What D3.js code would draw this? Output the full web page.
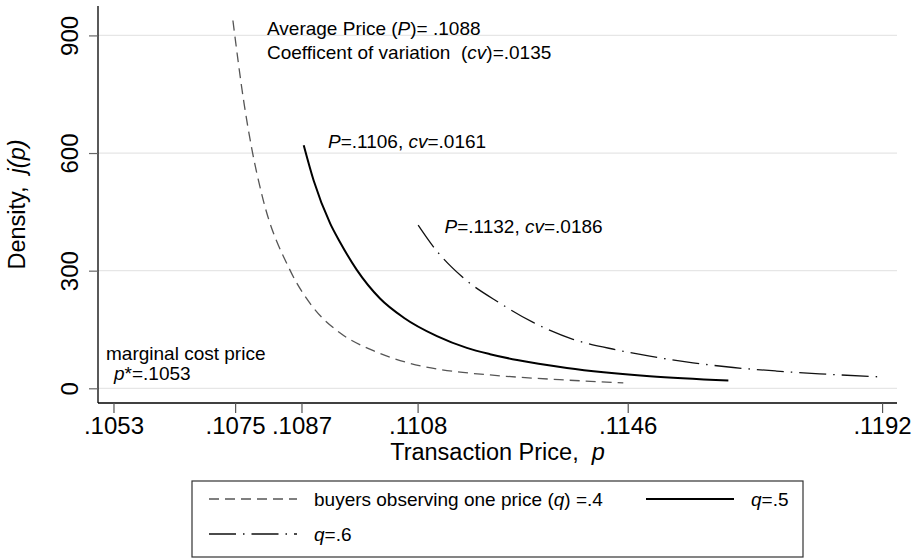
<!DOCTYPE html>
<html><head><meta charset="utf-8">
<script src="https://cdn.jsdelivr.net/npm/d3@7"></script>
<style>
html,body{margin:0;padding:0;background:#fff;}
text{font-family:"Liberation Sans",Arial,Helvetica,sans-serif;fill:#000;white-space:pre;}
</style></head>
<body>
<svg id="chart" width="915" height="558"></svg>
<script>
// ---- data ----
const priceTicks = [0.1053, 0.1075, 0.1087, 0.1108, 0.1146, 0.1192];
const priceTickLabels = [".1053", ".1075", ".1087", ".1108", ".1146", ".1192"];
const densityTicks = [0, 300, 600, 900];
const densityTickLabels = ["0", "300", "600", "900"];

// q = .4 (dashed)
const q4Price   = [0.10746, 0.10766, 0.10780, 0.10799, 0.10849, 0.10889, 0.10940, 0.11000, 0.11060, 0.11121, 0.11211, 0.11337, 0.11452];
const q4Density = [938, 728, 612, 490, 302, 210, 141, 96, 66, 48, 34, 22, 14];
// q = .5 (solid)
const q5Price   = [0.10874, 0.10892, 0.10922, 0.10940, 0.10970, 0.11012, 0.11055, 0.11115, 0.11169, 0.11211, 0.11260, 0.11350, 0.11500, 0.11642];
const q5Density = [620, 530, 420, 372, 302, 229, 180, 133, 103, 87, 72, 52, 31, 20];
// q = .6 (dash-dot)
const q6Price   = [0.11081, 0.11108, 0.11160, 0.11229, 0.11289, 0.11361, 0.11440, 0.11500, 0.11578, 0.11651, 0.11729, 0.11807, 0.11917];
const q6Density = [416, 362, 285, 217, 168, 125, 98, 82, 65, 53, 44, 37, 29];

// ---- layout ----
const svg = d3.select("#chart");
const L = 98, R = 897, T = 6, B = 403;
const x = d3.scaleLinear().domain([0.10502, 0.11947]).range([L, R]);
const y = d3.scaleLinear().domain([-37.5, 975]).range([B, T]);

// grid
svg.append("g").selectAll("line").data(densityTicks).join("line")
  .attr("x1", L).attr("x2", R)
  .attr("y1", d => y(d)).attr("y2", d => y(d))
  .attr("stroke", "#e6e6e6").attr("stroke-width", 1.2);

// y axis
const yAxis = svg.append("g").attr("transform", `translate(${L},0)`)
  .call(d3.axisLeft(y).tickValues(densityTicks).tickFormat((d,i) => densityTickLabels[i]).tickSize(9).tickPadding(10));
yAxis.select(".domain").attr("d", `M0,${T}V${B}`).attr("stroke", "#000").attr("stroke-width", 1.3);
yAxis.selectAll(".tick line").attr("stroke", "#666").attr("stroke-width", 1.2);
yAxis.selectAll(".tick text")
  .attr("font-size", 24).attr("font-family", "Liberation Sans, Arial, sans-serif")
  .attr("text-anchor", "middle").attr("x", null).attr("dy", null)
  .attr("transform", "translate(-20,0) rotate(-90)")
  .attr("y", 0);

// x axis
const xAxis = svg.append("g").attr("transform", `translate(0,${B})`)
  .call(d3.axisBottom(x).tickValues(priceTicks).tickFormat((d,i) => priceTickLabels[i]).tickSize(10).tickPadding(4));
xAxis.select(".domain").attr("d", `M${L},0H${R}`).attr("stroke", "#000").attr("stroke-width", 1.3);
xAxis.selectAll(".tick line").attr("stroke", "#555").attr("stroke-width", 1.2);
xAxis.selectAll(".tick text")
  .attr("font-size", 24).attr("font-family", "Liberation Sans, Arial, sans-serif")
  .attr("dy", null).attr("y", 30.5);

// curves
const line = d3.line().x(d => x(d[0])).y(d => y(d[1])).curve(d3.curveMonotoneX);
const series = [
  {id: "q4", pts: d3.zip(q4Price, q4Density), stroke: "#555", width: 1.3, dash: "10,6"},
  {id: "q5", pts: d3.zip(q5Price, q5Density), stroke: "#000", width: 2, dash: null},
  {id: "q6", pts: d3.zip(q6Price, q6Density), stroke: "#111", width: 1.3, dash: "27,7,1.5,7"}
];
svg.append("g").selectAll("path").data(series).join("path")
  .attr("d", d => line(d.pts))
  .attr("fill", "none").attr("stroke", d => d.stroke).attr("stroke-width", d => d.width)
  .attr("stroke-dasharray", d => d.dash);

// annotations
function rich(g, xx, yy, parts, size) {
  const t = g.append("text").attr("x", xx).attr("y", yy).attr("font-size", size);
  parts.forEach(p => t.append("tspan").text(p[0]).attr("font-style", p[1] ? "italic" : "normal"));
  return t;
}
const ann = svg.append("g");
rich(ann, 267, 35, [["Average Price ("],["P",1],[")= .1088"]], 19);
rich(ann, 267, 58.5, [["Coefficent of variation  ("],["cv",1],[")=.0135"]], 19);
rich(ann, 328, 148, [["P",1],["=.1106, "],["cv",1],["=.0161"]], 19);
rich(ann, 444.5, 233, [["P",1],["=.1132, "],["cv",1],["=.0186"]], 19);
rich(ann, 106, 360, [["marginal cost price"]], 19);
rich(ann, 114, 379.5, [["p",1],["*=.1053"]], 19);

// axis titles
rich(svg, (L + R) / 2, 460, [["Transaction Price,  "],["p",1]], 23.5).attr("text-anchor", "middle");
rich(svg, 0, 0, [["Density,  "],["j(p)",1]], 23.5)
  .attr("text-anchor", "middle").attr("transform", `translate(25,${(T + B) / 2}) rotate(-90)`);

// legend
const lg = svg.append("g");
lg.append("rect").attr("x", 192).attr("y", 481).attr("width", 611).attr("height", 76)
  .attr("fill", "#fff").attr("stroke", "#333").attr("stroke-width", 1.2);
const legendItems = [
  {s: series[0], kx: 209, ky: 499, tx: 314, ty: 505.5, parts: [["buyers observing one price ("],["q",1],[") =.4"]]},
  {s: series[1], kx: 646, ky: 499, tx: 751, ty: 505.5, parts: [["q",1],["=.5"]]},
  {s: series[2], kx: 209, ky: 534, tx: 314, ty: 540.5, parts: [["q",1],["=.6"]]}
];
legendItems.forEach(it => {
  lg.append("line").attr("x1", it.kx).attr("x2", it.kx + 88).attr("y1", it.ky).attr("y2", it.ky)
    .attr("stroke", it.s.stroke).attr("stroke-width", it.s.width).attr("stroke-dasharray", it.s.dash);
  rich(lg, it.tx, it.ty, it.parts, 19);
});
</script>
</body></html>
